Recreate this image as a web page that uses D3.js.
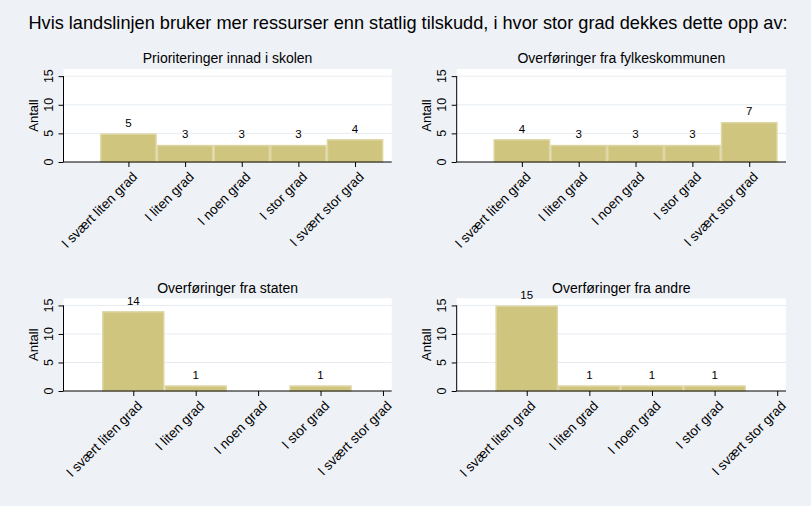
<!DOCTYPE html>
<html>
<head>
<meta charset="utf-8">
<script src="https://cdn.jsdelivr.net/npm/d3@7"></script>
<style>
html,body{margin:0;padding:0;background:#eef1f6;}
svg{display:block;font-family:"Liberation Sans",Arial,sans-serif;}
</style>
</head>
<body>
<svg id="chart" width="811" height="506"></svg>
<script>
const mainTitle = "Hvis landslinjen bruker mer ressurser enn statlig tilskudd, i hvor stor grad dekkes dette opp av:";
const categories = ["I svært liten grad", "I liten grad", "I noen grad", "I stor grad", "I svært stor grad"];
const panelTitles = ["Prioriteringer innad i skolen", "Overføringer fra fylkeskommunen", "Overføringer fra staten", "Overføringer fra andre"];
const valuesSkolen = [5, 3, 3, 3, 4];
const valuesFylke = [4, 3, 3, 3, 7];
const valuesStaten = [14, 1, 0, 1, 0];
const valuesAndre = [15, 1, 1, 1, 0];
const yTicks = [0, 5, 10, 15];
const yLabel = "Antall";

const seriesList = [valuesSkolen, valuesFylke, valuesStaten, valuesAndre];

// layout (pixels) per panel
const layout = [
  {x0: 63.5, x1: 391.7, top: 69, bottom: 162, dom: [-0.146, 5.647], titleY: 58},
  {x0: 456.7, x1: 786, top: 69, bottom: 162, dom: [-0.146, 5.647], titleY: 58},
  {x0: 63.5, x1: 391.7, top: 298.3, bottom: 391, dom: [-0.118, 5.14], titleY: 287.5},
  {x0: 456.7, x1: 786, top: 298.3, bottom: 391, dom: [-0.118, 5.14], titleY: 287.5}
];

const svg = d3.select("#chart");
svg.append("rect").attr("width", 811).attr("height", 506).attr("fill", "#eef1f6");

svg.append("text").attr("x", 408).attr("y", 28.5).attr("text-anchor", "middle")
  .attr("font-size", 18.2).attr("fill", "#000").text(mainTitle);

seriesList.forEach((vals, i) => {
  const L = layout[i];
  const g = svg.append("g");
  const x = d3.scaleLinear().domain(L.dom).range([L.x0, L.x1]);
  const y = d3.scaleLinear().domain([0, 16.25]).range([L.bottom, L.top]);
  const bw = x(2) - x(1);

  g.append("rect").attr("x", L.x0).attr("y", L.top).attr("width", L.x1 - L.x0).attr("height", L.bottom - L.top).attr("fill", "#fff");

  // gridlines
  g.selectAll("line.grid").data(yTicks.filter(t => t > 0)).enter().append("line")
    .attr("x1", L.x0).attr("x2", L.x1).attr("y1", d => y(d)).attr("y2", d => y(d))
    .attr("stroke", "#e6ecf2").attr("stroke-width", 1);

  // title
  g.append("text").attr("x", (L.x0 + L.x1) / 2).attr("y", L.titleY + 5).attr("text-anchor", "middle")
    .attr("font-size", 14).text(panelTitles[i]);

  // bars
  g.selectAll("rect.bar").data(vals.map((v, k) => ({v, k}))).enter().append("rect")
    .filter(d => d.v > 0)
    .attr("x", d => x(d.k + 1) - bw / 2 + 0.75).attr("width", bw - 1.5)
    .attr("y", d => y(d.v) + 0.75).attr("height", d => y(0) - y(d.v) - 0.75)
    .attr("fill", "#cfc57f").attr("stroke", "#ddd5a2").attr("stroke-width", 1.5);

  // value labels
  g.selectAll("text.val").data(vals.map((v, k) => ({v, k})).filter(d => d.v > 0)).enter().append("text")
    .attr("x", d => x(d.k + 1)).attr("y", d => y(d.v) - 6.5).attr("text-anchor", "middle")
    .attr("font-size", 11.5).text(d => d.v);

  // x axis
  const xAxis = d3.axisBottom(x).tickValues([1, 2, 3, 4, 5]).tickSize(5).tickFormat("");
  const xa = g.append("g").attr("transform", `translate(0,${L.bottom})`).call(xAxis);
  xa.select(".domain").remove();
  xa.selectAll(".tick line").attr("stroke", "#000");
  g.append("line").attr("x1", L.x0).attr("x2", L.x1).attr("y1", L.bottom).attr("y2", L.bottom).attr("stroke", "#000");
  g.selectAll("text.xl").data(categories).enter().append("text")
    .attr("transform", (d, k) => `translate(${x(k + 1) + 3},${L.bottom + 9}) rotate(-45)`)
    .attr("text-anchor", "end").attr("dy", "0.7em").attr("font-size", 13.5).text(d => d);

  // y axis
  const yAxis = d3.axisLeft(y).tickValues(yTicks).tickSize(5).tickFormat("");
  const ya = g.append("g").attr("transform", `translate(${L.x0},0)`).call(yAxis);
  ya.select(".domain").remove();
  ya.selectAll(".tick line").attr("stroke", "#000");
  g.append("line").attr("x1", L.x0).attr("x2", L.x0).attr("y1", y(15)).attr("y2", y(0)).attr("stroke", "#000");
  g.selectAll("text.yl").data(yTicks).enter().append("text")
    .attr("transform", d => `translate(${L.x0 - 11},${y(d)}) rotate(-90)`)
    .attr("text-anchor", "middle").attr("font-size", 12.5).text(d => d);

  g.append("text").attr("transform", `translate(${L.x0 - 26},${(L.top + L.bottom) / 2}) rotate(-90)`)
    .attr("text-anchor", "middle").attr("font-size", 13).text(yLabel);
});
</script>
</body>
</html>
